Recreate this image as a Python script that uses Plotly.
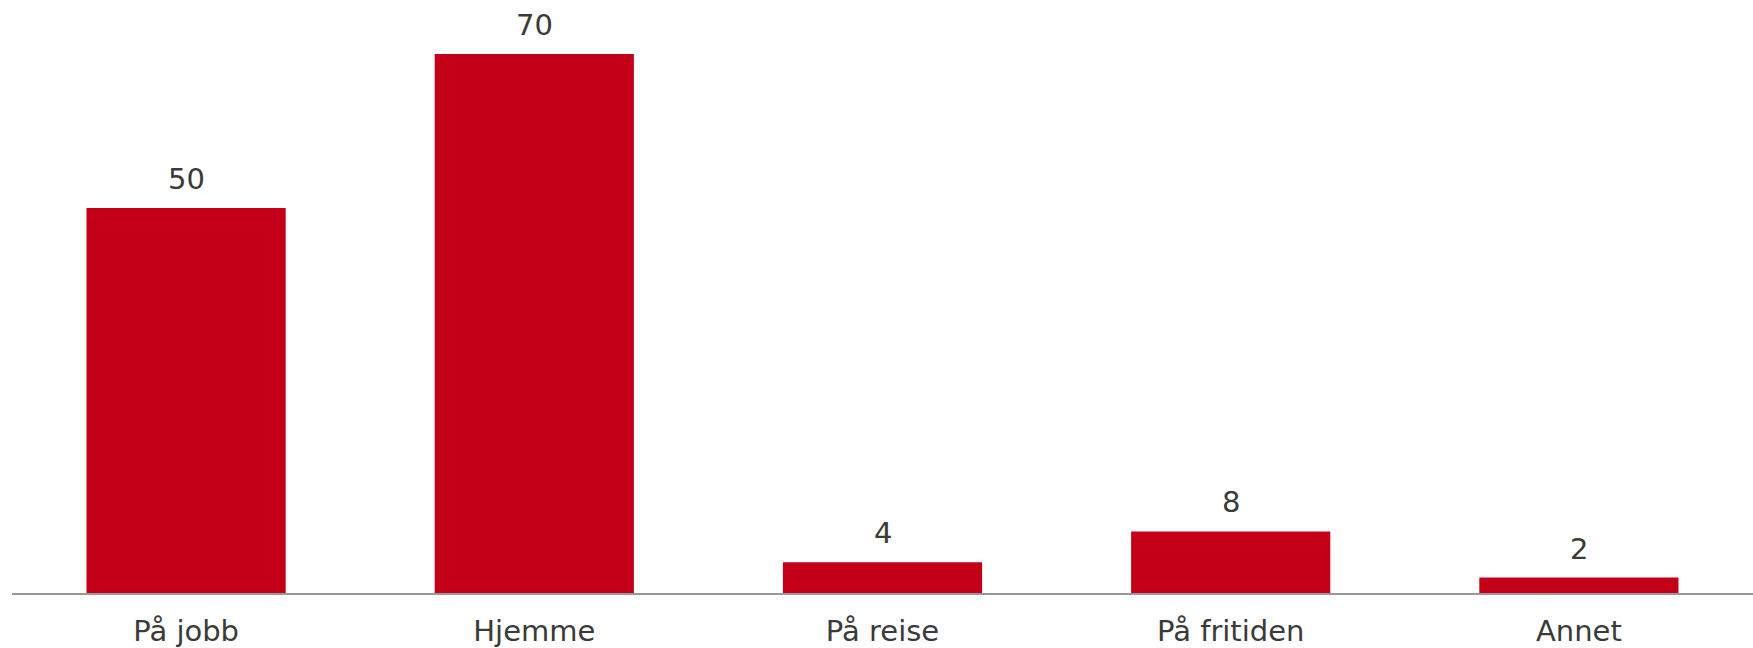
import plotly.graph_objects as go

# Where the incidents happened (count per location)
categories = ["På jobb", "Hjemme", "På reise", "På fritiden", "Annet"]
values = [50, 70, 4, 8, 2]

BAR_COLOR = "#c40018"
TEXT_COLOR = "#3a3a3a"
FONT = "DejaVu Sans, Verdana, sans-serif"
FONT_SIZE = 29

fig = go.Figure()
fig.add_trace(go.Bar(
    x=categories,
    y=values,
    marker=dict(color=BAR_COLOR, line=dict(width=0)),
    hoverinfo="x+y",
))

# value labels above each bar
for cat, val in zip(categories, values):
    fig.add_annotation(
        x=cat, y=val, text=str(val),
        showarrow=False, yanchor="bottom", yshift=10,
        font=dict(family=FONT, size=FONT_SIZE, color=TEXT_COLOR),
    )

fig.update_layout(
    width=1753, height=648,
    margin=dict(l=12, r=0, t=0, b=55),
    paper_bgcolor="white", plot_bgcolor="white",
    bargap=0.428,
    showlegend=False,
    font=dict(family=FONT, size=FONT_SIZE, color=TEXT_COLOR),
)
fig.update_xaxes(
    showline=True, linecolor="#999999", linewidth=2,
    showgrid=False, zeroline=False, automargin=False,
    ticks="", ticklabelstandoff=11,
    tickfont=dict(family=FONT, size=FONT_SIZE, color=TEXT_COLOR),
)
fig.update_yaxes(
    range=[0, 77], visible=False, showgrid=False, zeroline=False,
)

fig.write_html("out.html")
